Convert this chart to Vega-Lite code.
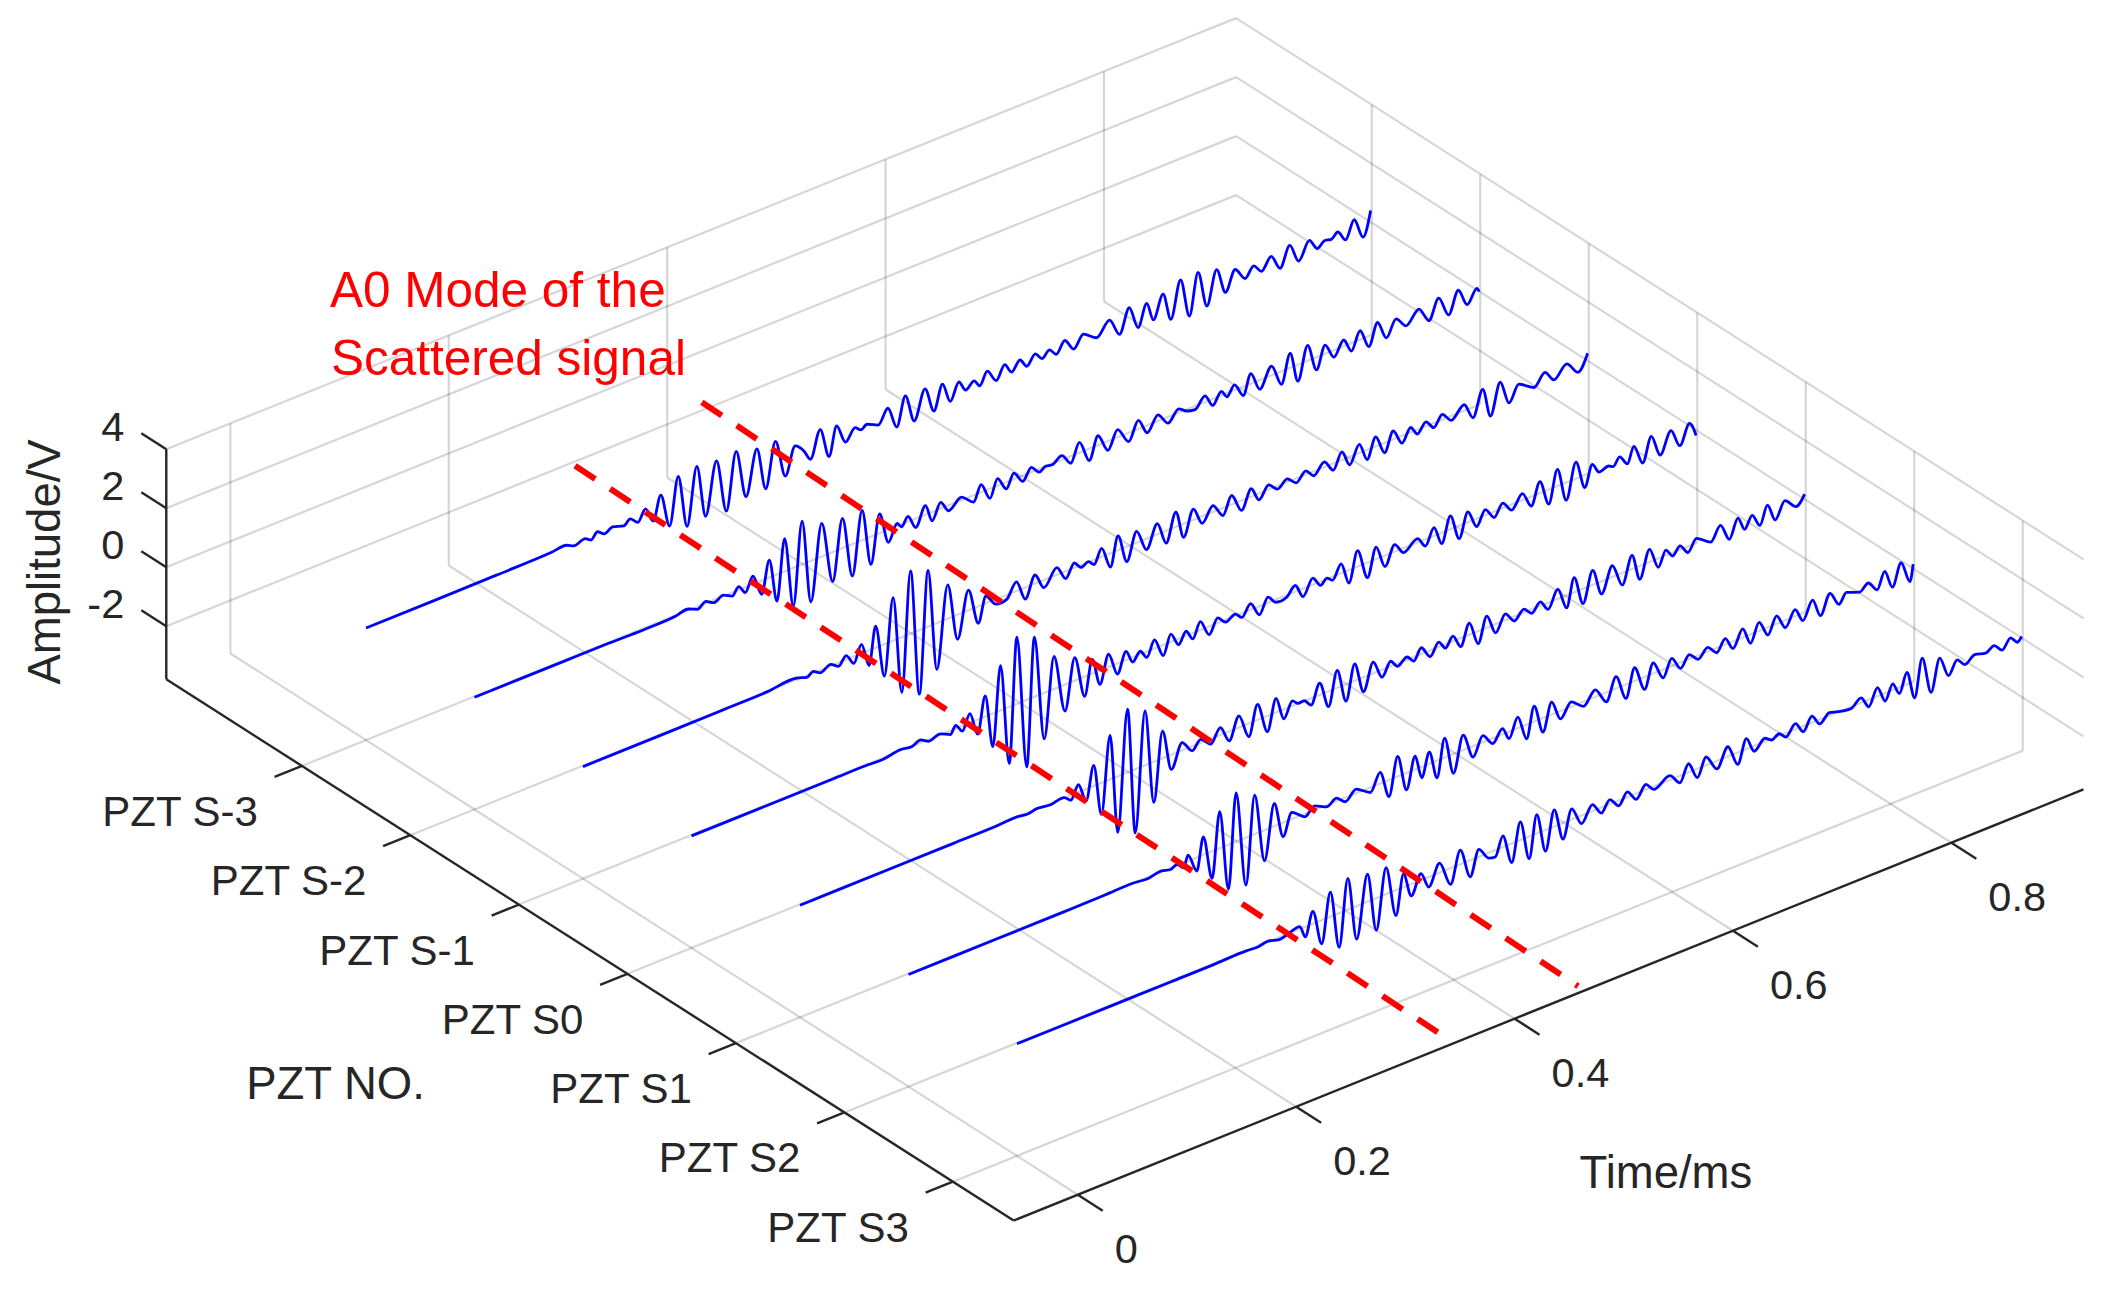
{"$schema":"https://vega.github.io/schema/vega-lite/v6.json","width":2113,"height":1289,"padding":0,"autosize":{"type":"none"},"background":"white","config":{"view":{"stroke":null}},
"datasets":{
"grid":[
{"t1":0,"s1":-4.25,"z1":-3.8,"t2":0,"s2":3.56,"z2":-3.8},{"t1":0.2,"s1":-4.25,"z1":-3.8,"t2":0.2,"s2":3.56,"z2":-3.8},{"t1":0.4,"s1":-4.25,"z1":-3.8,"t2":0.4,"s2":3.56,"z2":-3.8},{"t1":0.6,"s1":-4.25,"z1":-3.8,"t2":0.6,"s2":3.56,"z2":-3.8},{"t1":0.8,"s1":-4.25,"z1":-3.8,"t2":0.8,"s2":3.56,"z2":-3.8},
{"t1":-0.0587,"s1":-3,"z1":-3.8,"t2":0.921,"s2":-3,"z2":-3.8},{"t1":-0.0587,"s1":-2,"z1":-3.8,"t2":0.921,"s2":-2,"z2":-3.8},{"t1":-0.0587,"s1":-1,"z1":-3.8,"t2":0.921,"s2":-1,"z2":-3.8},{"t1":-0.0587,"s1":0,"z1":-3.8,"t2":0.921,"s2":0,"z2":-3.8},{"t1":-0.0587,"s1":1,"z1":-3.8,"t2":0.921,"s2":1,"z2":-3.8},{"t1":-0.0587,"s1":2,"z1":-3.8,"t2":0.921,"s2":2,"z2":-3.8},{"t1":-0.0587,"s1":3,"z1":-3.8,"t2":0.921,"s2":3,"z2":-3.8},
{"t1":0,"s1":-4.25,"z1":-3.8,"t2":0,"s2":-4.25,"z2":4},{"t1":0.2,"s1":-4.25,"z1":-3.8,"t2":0.2,"s2":-4.25,"z2":4},{"t1":0.4,"s1":-4.25,"z1":-3.8,"t2":0.4,"s2":-4.25,"z2":4},{"t1":0.6,"s1":-4.25,"z1":-3.8,"t2":0.6,"s2":-4.25,"z2":4},{"t1":0.8,"s1":-4.25,"z1":-3.8,"t2":0.8,"s2":-4.25,"z2":4},
{"t1":-0.0587,"s1":-4.25,"z1":-2,"t2":0.921,"s2":-4.25,"z2":-2},{"t1":-0.0587,"s1":-4.25,"z1":0,"t2":0.921,"s2":-4.25,"z2":0},{"t1":-0.0587,"s1":-4.25,"z1":2,"t2":0.921,"s2":-4.25,"z2":2},{"t1":-0.0587,"s1":-4.25,"z1":4,"t2":0.921,"s2":-4.25,"z2":4},
{"t1":0.921,"s1":-3,"z1":-3.8,"t2":0.921,"s2":-3,"z2":4},{"t1":0.921,"s1":-2,"z1":-3.8,"t2":0.921,"s2":-2,"z2":4},{"t1":0.921,"s1":-1,"z1":-3.8,"t2":0.921,"s2":-1,"z2":4},{"t1":0.921,"s1":0,"z1":-3.8,"t2":0.921,"s2":0,"z2":4},{"t1":0.921,"s1":1,"z1":-3.8,"t2":0.921,"s2":1,"z2":4},{"t1":0.921,"s1":2,"z1":-3.8,"t2":0.921,"s2":2,"z2":4},{"t1":0.921,"s1":3,"z1":-3.8,"t2":0.921,"s2":3,"z2":4},
{"t1":0.921,"s1":-4.25,"z1":-2,"t2":0.921,"s2":3.56,"z2":-2},{"t1":0.921,"s1":-4.25,"z1":0,"t2":0.921,"s2":3.56,"z2":0},{"t1":0.921,"s1":-4.25,"z1":2,"t2":0.921,"s2":3.56,"z2":2},{"t1":0.921,"s1":-4.25,"z1":4,"t2":0.921,"s2":3.56,"z2":4}
],
"axes":[
{"t1":-0.0587,"s1":-4.25,"z1":-3.8,"t2":-0.0587,"s2":-4.25,"z2":4},{"t1":-0.0587,"s1":-4.25,"z1":-3.8,"t2":-0.0587,"s2":3.56,"z2":-3.8},{"t1":-0.0587,"s1":3.56,"z1":-3.8,"t2":0.921,"s2":3.56,"z2":-3.8},
{"t1":0,"s1":3.56,"z1":-3.8,"t2":0,"s2":3.79,"z2":-3.8},{"t1":0.2,"s1":3.56,"z1":-3.8,"t2":0.2,"s2":3.79,"z2":-3.8},{"t1":0.4,"s1":3.56,"z1":-3.8,"t2":0.4,"s2":3.79,"z2":-3.8},{"t1":0.6,"s1":3.56,"z1":-3.8,"t2":0.6,"s2":3.79,"z2":-3.8},{"t1":0.8,"s1":3.56,"z1":-3.8,"t2":0.8,"s2":3.79,"z2":-3.8},
{"t1":-0.0587,"s1":-3,"z1":-3.8,"t2":-0.0837,"s2":-3,"z2":-3.8},{"t1":-0.0587,"s1":-2,"z1":-3.8,"t2":-0.0837,"s2":-2,"z2":-3.8},{"t1":-0.0587,"s1":-1,"z1":-3.8,"t2":-0.0837,"s2":-1,"z2":-3.8},{"t1":-0.0587,"s1":0,"z1":-3.8,"t2":-0.0837,"s2":0,"z2":-3.8},{"t1":-0.0587,"s1":1,"z1":-3.8,"t2":-0.0837,"s2":1,"z2":-3.8},{"t1":-0.0587,"s1":2,"z1":-3.8,"t2":-0.0837,"s2":2,"z2":-3.8},{"t1":-0.0587,"s1":3,"z1":-3.8,"t2":-0.0837,"s2":3,"z2":-3.8},
{"t1":-0.0587,"s1":-4.25,"z1":-2,"t2":-0.0587,"s2":-4.48,"z2":-2},{"t1":-0.0587,"s1":-4.25,"z1":0,"t2":-0.0587,"s2":-4.48,"z2":0},{"t1":-0.0587,"s1":-4.25,"z1":2,"t2":-0.0587,"s2":-4.48,"z2":2},{"t1":-0.0587,"s1":-4.25,"z1":4,"t2":-0.0587,"s2":-4.48,"z2":4}
],
"signals":[
{"s":-3,"t":0,"v":0},{"s":-3,"t":0.06,"v":0},{"s":-3,"t":0.12,"v":0.01},{"s":-3,"t":0.17,"v":0.03},{"s":-3,"t":0.184,"v":0.06},{"s":-3,"t":0.19,"v":-0.05},{"s":-3,"t":0.201,"v":0.03},{"s":-3,"t":0.206,"v":-0.09},{"s":-3,"t":0.212,"v":0.1},{"s":-3,"t":0.218,"v":-0.06},{"s":-3,"t":0.226,"v":0.06},{"s":-3,"t":0.236,"v":-0.06},{"s":-3,"t":0.242,"v":0.09},{"s":-3,"t":0.249,"v":-0.13},{"s":-3,"t":0.256,"v":0.22},{"s":-3,"t":0.263,"v":-0.3},{"s":-3,"t":0.27,"v":0.48},{"s":-3,"t":0.278,"v":-0.69},{"s":-3,"t":0.286,"v":0.87},{"s":-3,"t":0.294,"v":-0.94},{"s":-3,"t":0.303,"v":0.96},{"s":-3,"t":0.311,"v":-0.85},{"s":-3,"t":0.321,"v":0.88},{"s":-3,"t":0.33,"v":-0.96},{"s":-3,"t":0.339,"v":0.93},{"s":-3,"t":0.348,"v":-0.74},{"s":-3,"t":0.358,"v":0.73},{"s":-3,"t":0.366,"v":-0.74},{"s":-3,"t":0.375,"v":0.73},{"s":-3,"t":0.384,"v":-0.58},{"s":-3,"t":0.393,"v":0.31},{"s":-3,"t":0.401,"v":0.02},{"s":-3,"t":0.407,"v":-0.35},{"s":-3,"t":0.416,"v":0.52},{"s":-3,"t":0.424,"v":-0.51},{"s":-3,"t":0.431,"v":0.42},{"s":-3,"t":0.439,"v":-0.25},{"s":-3,"t":0.448,"v":0.11},{"s":-3,"t":0.453,"v":-0.04},{"s":-3,"t":0.459,"v":0.06},{"s":-3,"t":0.469,"v":-0.12},{"s":-3,"t":0.478,"v":0.32},{"s":-3,"t":0.486,"v":-0.44},{"s":-3,"t":0.494,"v":0.5},{"s":-3,"t":0.502,"v":-0.47},{"s":-3,"t":0.512,"v":0.47},{"s":-3,"t":0.52,"v":-0.4},{"s":-3,"t":0.528,"v":0.39},{"s":-3,"t":0.535,"v":-0.3},{"s":-3,"t":0.543,"v":0.24},{"s":-3,"t":0.549,"v":-0.12},{"s":-3,"t":0.557,"v":0.07},{"s":-3,"t":0.562,"v":-0.17},{"s":-3,"t":0.569,"v":0.22},{"s":-3,"t":0.577,"v":-0.22},{"s":-3,"t":0.585,"v":0.2},{"s":-3,"t":0.591,"v":-0.14},{"s":-3,"t":0.599,"v":0.15},{"s":-3,"t":0.605,"v":-0.15},{"s":-3,"t":0.613,"v":0.15},{"s":-3,"t":0.619,"v":-0.1},{"s":-3,"t":0.626,"v":0.09},{"s":-3,"t":0.632,"v":-0.15},{"s":-3,"t":0.64,"v":0.2},{"s":-3,"t":0.648,"v":-0.21},{"s":-3,"t":0.657,"v":0.16},{"s":-3,"t":0.669,"v":-0.14},{"s":-3,"t":0.681,"v":0.28},{"s":-3,"t":0.69,"v":-0.34},{"s":-3,"t":0.699,"v":0.43},{"s":-3,"t":0.707,"v":-0.36},{"s":-3,"t":0.715,"v":0.34},{"s":-3,"t":0.721,"v":-0.31},{"s":-3,"t":0.73,"v":0.43},{"s":-3,"t":0.737,"v":-0.53},{"s":-3,"t":0.746,"v":0.67},{"s":-3,"t":0.754,"v":-0.67},{"s":-3,"t":0.762,"v":0.69},{"s":-3,"t":0.77,"v":-0.57},{"s":-3,"t":0.779,"v":0.53},{"s":-3,"t":0.787,"v":-0.36},{"s":-3,"t":0.796,"v":0.28},{"s":-3,"t":0.805,"v":-0.16},{"s":-3,"t":0.813,"v":0.15},{"s":-3,"t":0.82,"v":-0.14},{"s":-3,"t":0.829,"v":0.23},{"s":-3,"t":0.837,"v":-0.29},{"s":-3,"t":0.846,"v":0.35},{"s":-3,"t":0.854,"v":-0.3},{"s":-3,"t":0.864,"v":0.25},{"s":-3,"t":0.871,"v":-0.13},{"s":-3,"t":0.878,"v":0.04},{"s":-3,"t":0.884,"v":-0.01},{"s":-3,"t":0.89,"v":0.15},{"s":-3,"t":0.897,"v":-0.22},{"s":-3,"t":0.905,"v":0.34},{"s":-3,"t":0.913,"v":-0.37},{"s":-3,"t":0.92,"v":0.43},
{"s":-2,"t":0,"v":0},{"s":-2,"t":0.08,"v":0},{"s":-2,"t":0.12,"v":0},{"s":-2,"t":0.155,"v":-0.02},{"s":-2,"t":0.184,"v":0},{"s":-2,"t":0.196,"v":0.07},{"s":-2,"t":0.204,"v":-0.06},{"s":-2,"t":0.212,"v":0.09},{"s":-2,"t":0.219,"v":-0.06},{"s":-2,"t":0.228,"v":0.06},{"s":-2,"t":0.236,"v":-0.09},{"s":-2,"t":0.242,"v":0.14},{"s":-2,"t":0.248,"v":-0.15},{"s":-2,"t":0.255,"v":0.3},{"s":-2,"t":0.263,"v":-0.43},{"s":-2,"t":0.27,"v":0.62},{"s":-2,"t":0.277,"v":-0.87},{"s":-2,"t":0.284,"v":1.14},{"s":-2,"t":0.292,"v":-1.26},{"s":-2,"t":0.3,"v":1.5},{"s":-2,"t":0.308,"v":-1.36},{"s":-2,"t":0.318,"v":1.15},{"s":-2,"t":0.328,"v":-0.97},{"s":-2,"t":0.337,"v":1.04},{"s":-2,"t":0.346,"v":-1.05},{"s":-2,"t":0.355,"v":1.04},{"s":-2,"t":0.363,"v":-0.91},{"s":-2,"t":0.371,"v":0.68},{"s":-2,"t":0.379,"v":-0.4},{"s":-2,"t":0.387,"v":0.12},{"s":-2,"t":0.391,"v":-0.05},{"s":-2,"t":0.397,"v":0.21},{"s":-2,"t":0.404,"v":-0.27},{"s":-2,"t":0.413,"v":0.34},{"s":-2,"t":0.419,"v":-0.27},{"s":-2,"t":0.427,"v":0.24},{"s":-2,"t":0.434,"v":-0.15},{"s":-2,"t":0.446,"v":0.13},{"s":-2,"t":0.457,"v":-0.2},{"s":-2,"t":0.464,"v":0.29},{"s":-2,"t":0.472,"v":-0.3},{"s":-2,"t":0.479,"v":0.27},{"s":-2,"t":0.487,"v":-0.2},{"s":-2,"t":0.494,"v":0.23},{"s":-2,"t":0.502,"v":-0.17},{"s":-2,"t":0.51,"v":0.19},{"s":-2,"t":0.517,"v":-0.08},{"s":-2,"t":0.523,"v":0.03},{"s":-2,"t":0.529,"v":-0.01},{"s":-2,"t":0.538,"v":0.17},{"s":-2,"t":0.546,"v":-0.21},{"s":-2,"t":0.554,"v":0.38},{"s":-2,"t":0.563,"v":-0.37},{"s":-2,"t":0.571,"v":0.35},{"s":-2,"t":0.58,"v":-0.28},{"s":-2,"t":0.589,"v":0.29},{"s":-2,"t":0.599,"v":-0.27},{"s":-2,"t":0.608,"v":0.32},{"s":-2,"t":0.616,"v":-0.22},{"s":-2,"t":0.626,"v":0.24},{"s":-2,"t":0.635,"v":-0.18},{"s":-2,"t":0.645,"v":0.16},{"s":-2,"t":0.652,"v":-0.02},{"s":-2,"t":0.66,"v":-0.09},{"s":-2,"t":0.669,"v":0.24},{"s":-2,"t":0.676,"v":-0.19},{"s":-2,"t":0.684,"v":0.17},{"s":-2,"t":0.689,"v":-0.09},{"s":-2,"t":0.696,"v":0.21},{"s":-2,"t":0.704,"v":-0.27},{"s":-2,"t":0.711,"v":0.37},{"s":-2,"t":0.719,"v":-0.28},{"s":-2,"t":0.73,"v":0.34},{"s":-2,"t":0.739,"v":-0.41},{"s":-2,"t":0.747,"v":0.52},{"s":-2,"t":0.754,"v":-0.53},{"s":-2,"t":0.763,"v":0.55},{"s":-2,"t":0.771,"v":-0.4},{"s":-2,"t":0.779,"v":0.32},{"s":-2,"t":0.787,"v":-0.21},{"s":-2,"t":0.796,"v":0.24},{"s":-2,"t":0.803,"v":-0.24},{"s":-2,"t":0.811,"v":0.33},{"s":-2,"t":0.819,"v":-0.33},{"s":-2,"t":0.827,"v":0.37},{"s":-2,"t":0.835,"v":-0.27},{"s":-2,"t":0.844,"v":0.24},{"s":-2,"t":0.853,"v":-0.13},{"s":-2,"t":0.865,"v":0.26},{"s":-2,"t":0.874,"v":-0.27},{"s":-2,"t":0.883,"v":0.36},{"s":-2,"t":0.892,"v":-0.34},{"s":-2,"t":0.901,"v":0.36},{"s":-2,"t":0.909,"v":-0.25},{"s":-2,"t":0.918,"v":0.17},{"s":-2,"t":0.92,"v":0.03},
{"s":-1,"t":0,"v":0},{"s":-1,"t":0.08,"v":0},{"s":-1,"t":0.13,"v":0.01},{"s":-1,"t":0.169,"v":0.02},{"s":-1,"t":0.196,"v":0.08},{"s":-1,"t":0.205,"v":-0.03},{"s":-1,"t":0.211,"v":0.08},{"s":-1,"t":0.217,"v":-0.06},{"s":-1,"t":0.227,"v":0.08},{"s":-1,"t":0.234,"v":-0.09},{"s":-1,"t":0.241,"v":0.17},{"s":-1,"t":0.248,"v":-0.2},{"s":-1,"t":0.255,"v":0.34},{"s":-1,"t":0.262,"v":-0.48},{"s":-1,"t":0.268,"v":0.76},{"s":-1,"t":0.276,"v":-1.05},{"s":-1,"t":0.284,"v":1.49},{"s":-1,"t":0.292,"v":-1.84},{"s":-1,"t":0.3,"v":2.16},{"s":-1,"t":0.308,"v":-2.14},{"s":-1,"t":0.316,"v":1.94},{"s":-1,"t":0.324,"v":-1.54},{"s":-1,"t":0.334,"v":1.18},{"s":-1,"t":0.343,"v":-0.8},{"s":-1,"t":0.353,"v":0.72},{"s":-1,"t":0.362,"v":-0.54},{"s":-1,"t":0.369,"v":0.28},{"s":-1,"t":0.378,"v":-0.13},{"s":-1,"t":0.388,"v":-0.12},{"s":-1,"t":0.397,"v":0.34},{"s":-1,"t":0.405,"v":-0.36},{"s":-1,"t":0.414,"v":0.32},{"s":-1,"t":0.422,"v":-0.23},{"s":-1,"t":0.434,"v":0.27},{"s":-1,"t":0.442,"v":-0.22},{"s":-1,"t":0.45,"v":0.19},{"s":-1,"t":0.456,"v":-0.05},{"s":-1,"t":0.463,"v":0.04},{"s":-1,"t":0.468,"v":-0.13},{"s":-1,"t":0.475,"v":0.31},{"s":-1,"t":0.483,"v":-0.44},{"s":-1,"t":0.49,"v":0.51},{"s":-1,"t":0.498,"v":-0.48},{"s":-1,"t":0.507,"v":0.41},{"s":-1,"t":0.516,"v":-0.34},{"s":-1,"t":0.526,"v":0.39},{"s":-1,"t":0.534,"v":-0.39},{"s":-1,"t":0.543,"v":0.53},{"s":-1,"t":0.55,"v":-0.43},{"s":-1,"t":0.559,"v":0.39},{"s":-1,"t":0.567,"v":-0.21},{"s":-1,"t":0.577,"v":0.24},{"s":-1,"t":0.586,"v":-0.23},{"s":-1,"t":0.594,"v":0.33},{"s":-1,"t":0.603,"v":-0.31},{"s":-1,"t":0.612,"v":0.29},{"s":-1,"t":0.619,"v":-0.19},{"s":-1,"t":0.628,"v":0.18},{"s":-1,"t":0.636,"v":-0.08},{"s":-1,"t":0.645,"v":0.13},{"s":-1,"t":0.653,"v":-0.12},{"s":-1,"t":0.662,"v":0.15},{"s":-1,"t":0.669,"v":-0.12},{"s":-1,"t":0.679,"v":0.2},{"s":-1,"t":0.687,"v":-0.2},{"s":-1,"t":0.695,"v":0.3},{"s":-1,"t":0.702,"v":-0.24},{"s":-1,"t":0.711,"v":0.32},{"s":-1,"t":0.718,"v":-0.3},{"s":-1,"t":0.726,"v":0.35},{"s":-1,"t":0.734,"v":-0.31},{"s":-1,"t":0.742,"v":0.31},{"s":-1,"t":0.75,"v":-0.22},{"s":-1,"t":0.758,"v":0.19},{"s":-1,"t":0.764,"v":-0.12},{"s":-1,"t":0.772,"v":0.17},{"s":-1,"t":0.779,"v":-0.13},{"s":-1,"t":0.787,"v":0.2},{"s":-1,"t":0.795,"v":-0.12},{"s":-1,"t":0.807,"v":0.23},{"s":-1,"t":0.815,"v":-0.33},{"s":-1,"t":0.824,"v":0.5},{"s":-1,"t":0.831,"v":-0.51},{"s":-1,"t":0.84,"v":0.5},{"s":-1,"t":0.848,"v":-0.32},{"s":-1,"t":0.857,"v":0.18},{"s":-1,"t":0.871,"v":-0.14},{"s":-1,"t":0.881,"v":0.22},{"s":-1,"t":0.889,"v":-0.15},{"s":-1,"t":0.901,"v":0.21},{"s":-1,"t":0.911,"v":-0.22},{"s":-1,"t":0.92,"v":0.29},
{"s":0,"t":0,"v":0},{"s":0,"t":0.08,"v":0},{"s":0,"t":0.13,"v":0},{"s":0,"t":0.16,"v":0},{"s":0,"t":0.176,"v":-0.02},{"s":0,"t":0.191,"v":0.07},{"s":0,"t":0.202,"v":0.02},{"s":0,"t":0.21,"v":0.12},{"s":0,"t":0.217,"v":-0.03},{"s":0,"t":0.228,"v":0.06},{"s":0,"t":0.237,"v":-0.1},{"s":0,"t":0.242,"v":0.14},{"s":0,"t":0.248,"v":-0.15},{"s":0,"t":0.255,"v":0.34},{"s":0,"t":0.262,"v":-0.46},{"s":0,"t":0.269,"v":0.73},{"s":0,"t":0.276,"v":-1.09},{"s":0,"t":0.283,"v":1.55},{"s":0,"t":0.291,"v":-1.89},{"s":0,"t":0.298,"v":2.29},{"s":0,"t":0.307,"v":-2.24},{"s":0,"t":0.314,"v":2.05},{"s":0,"t":0.323,"v":-1.53},{"s":0,"t":0.332,"v":1.13},{"s":0,"t":0.342,"v":-0.87},{"s":0,"t":0.351,"v":0.81},{"s":0,"t":0.36,"v":-0.64},{"s":0,"t":0.367,"v":0.51},{"s":0,"t":0.374,"v":-0.44},{"s":0,"t":0.382,"v":0.46},{"s":0,"t":0.39,"v":-0.33},{"s":0,"t":0.398,"v":0.32},{"s":0,"t":0.404,"v":-0.13},{"s":0,"t":0.411,"v":0.13},{"s":0,"t":0.417,"v":-0.17},{"s":0,"t":0.424,"v":0.32},{"s":0,"t":0.432,"v":-0.33},{"s":0,"t":0.439,"v":0.29},{"s":0,"t":0.446,"v":-0.17},{"s":0,"t":0.453,"v":0.18},{"s":0,"t":0.459,"v":-0.17},{"s":0,"t":0.466,"v":0.31},{"s":0,"t":0.474,"v":-0.25},{"s":0,"t":0.482,"v":0.2},{"s":0,"t":0.489,"v":-0.05},{"s":0,"t":0.498,"v":0.09},{"s":0,"t":0.504,"v":-0.11},{"s":0,"t":0.512,"v":0.24},{"s":0,"t":0.52,"v":-0.26},{"s":0,"t":0.528,"v":0.22},{"s":0,"t":0.535,"v":-0.06},{"s":0,"t":0.545,"v":-0.04},{"s":0,"t":0.553,"v":0.24},{"s":0,"t":0.56,"v":-0.24},{"s":0,"t":0.569,"v":0.25},{"s":0,"t":0.576,"v":-0.1},{"s":0,"t":0.582,"v":0.06},{"s":0,"t":0.587,"v":-0.09},{"s":0,"t":0.595,"v":0.35},{"s":0,"t":0.602,"v":-0.41},{"s":0,"t":0.61,"v":0.57},{"s":0,"t":0.619,"v":-0.48},{"s":0,"t":0.627,"v":0.44},{"s":0,"t":0.635,"v":-0.34},{"s":0,"t":0.644,"v":0.27},{"s":0,"t":0.652,"v":-0.12},{"s":0,"t":0.665,"v":0.16},{"s":0,"t":0.672,"v":-0.2},{"s":0,"t":0.68,"v":0.31},{"s":0,"t":0.687,"v":-0.34},{"s":0,"t":0.695,"v":0.48},{"s":0,"t":0.703,"v":-0.41},{"s":0,"t":0.711,"v":0.38},{"s":0,"t":0.719,"v":-0.24},{"s":0,"t":0.727,"v":0.22},{"s":0,"t":0.735,"v":-0.17},{"s":0,"t":0.743,"v":0.2},{"s":0,"t":0.751,"v":-0.16},{"s":0,"t":0.761,"v":0.25},{"s":0,"t":0.769,"v":-0.29},{"s":0,"t":0.777,"v":0.42},{"s":0,"t":0.785,"v":-0.46},{"s":0,"t":0.793,"v":0.6},{"s":0,"t":0.801,"v":-0.57},{"s":0,"t":0.81,"v":0.59},{"s":0,"t":0.818,"v":-0.39},{"s":0,"t":0.825,"v":0.29},{"s":0,"t":0.831,"v":-0.06},{"s":0,"t":0.84,"v":0.01},{"s":0,"t":0.844,"v":-0.07},{"s":0,"t":0.85,"v":0.17},{"s":0,"t":0.857,"v":-0.17},{"s":0,"t":0.863,"v":0.33},{"s":0,"t":0.871,"v":-0.35},{"s":0,"t":0.879,"v":0.43},{"s":0,"t":0.887,"v":-0.32},{"s":0,"t":0.897,"v":0.36},{"s":0,"t":0.905,"v":-0.27},{"s":0,"t":0.914,"v":0.35},{"s":0,"t":0.92,"v":-0.15},
{"s":1,"t":0,"v":0},{"s":1,"t":0.08,"v":0},{"s":1,"t":0.14,"v":0},{"s":1,"t":0.18,"v":0},{"s":1,"t":0.2,"v":0.03},{"s":1,"t":0.208,"v":-0.02},{"s":1,"t":0.217,"v":0.04},{"s":1,"t":0.229,"v":-0.02},{"s":1,"t":0.242,"v":0.04},{"s":1,"t":0.248,"v":-0.14},{"s":1,"t":0.255,"v":0.28},{"s":1,"t":0.262,"v":-0.37},{"s":1,"t":0.269,"v":0.73},{"s":1,"t":0.276,"v":-1.04},{"s":1,"t":0.284,"v":1.52},{"s":1,"t":0.291,"v":-1.87},{"s":1,"t":0.3,"v":2.17},{"s":1,"t":0.307,"v":-2.13},{"s":1,"t":0.316,"v":1.87},{"s":1,"t":0.324,"v":-1.35},{"s":1,"t":0.332,"v":0.95},{"s":1,"t":0.34,"v":-0.47},{"s":1,"t":0.35,"v":0.29},{"s":1,"t":0.359,"v":-0.12},{"s":1,"t":0.367,"v":0.15},{"s":1,"t":0.376,"v":-0.15},{"s":1,"t":0.385,"v":0.28},{"s":1,"t":0.393,"v":-0.29},{"s":1,"t":0.402,"v":0.42},{"s":1,"t":0.411,"v":-0.42},{"s":1,"t":0.419,"v":0.56},{"s":1,"t":0.428,"v":-0.5},{"s":1,"t":0.436,"v":0.51},{"s":1,"t":0.443,"v":-0.29},{"s":1,"t":0.451,"v":0.2},{"s":1,"t":0.456,"v":0.04},{"s":1,"t":0.462,"v":0.04},{"s":1,"t":0.468,"v":-0.2},{"s":1,"t":0.476,"v":0.43},{"s":1,"t":0.484,"v":-0.49},{"s":1,"t":0.492,"v":0.62},{"s":1,"t":0.5,"v":-0.54},{"s":1,"t":0.508,"v":0.6},{"s":1,"t":0.516,"v":-0.46},{"s":1,"t":0.525,"v":0.41},{"s":1,"t":0.533,"v":-0.22},{"s":1,"t":0.541,"v":0.2},{"s":1,"t":0.547,"v":-0.06},{"s":1,"t":0.556,"v":0.12},{"s":1,"t":0.562,"v":-0.11},{"s":1,"t":0.569,"v":0.24},{"s":1,"t":0.577,"v":-0.18},{"s":1,"t":0.585,"v":0.19},{"s":1,"t":0.591,"v":-0.1},{"s":1,"t":0.598,"v":0.2},{"s":1,"t":0.605,"v":-0.26},{"s":1,"t":0.613,"v":0.42},{"s":1,"t":0.621,"v":-0.4},{"s":1,"t":0.629,"v":0.42},{"s":1,"t":0.637,"v":-0.27},{"s":1,"t":0.646,"v":0.24},{"s":1,"t":0.654,"v":-0.12},{"s":1,"t":0.663,"v":0.15},{"s":1,"t":0.67,"v":-0.1},{"s":1,"t":0.678,"v":0.17},{"s":1,"t":0.685,"v":-0.19},{"s":1,"t":0.694,"v":0.36},{"s":1,"t":0.702,"v":-0.39},{"s":1,"t":0.709,"v":0.53},{"s":1,"t":0.717,"v":-0.47},{"s":1,"t":0.726,"v":0.52},{"s":1,"t":0.734,"v":-0.4},{"s":1,"t":0.744,"v":0.41},{"s":1,"t":0.753,"v":-0.38},{"s":1,"t":0.762,"v":0.49},{"s":1,"t":0.769,"v":-0.42},{"s":1,"t":0.778,"v":0.46},{"s":1,"t":0.786,"v":-0.27},{"s":1,"t":0.793,"v":0.21},{"s":1,"t":0.799,"v":-0.08},{"s":1,"t":0.806,"v":0.16},{"s":1,"t":0.813,"v":-0.17},{"s":1,"t":0.821,"v":0.19},{"s":1,"t":0.834,"v":-0.13},{"s":1,"t":0.843,"v":0.3},{"s":1,"t":0.851,"v":-0.29},{"s":1,"t":0.859,"v":0.31},{"s":1,"t":0.865,"v":-0.16},{"s":1,"t":0.872,"v":0.21},{"s":1,"t":0.879,"v":-0.24},{"s":1,"t":0.886,"v":0.35},{"s":1,"t":0.893,"v":-0.26},{"s":1,"t":0.902,"v":0.26},{"s":1,"t":0.912,"v":-0.09},{"s":1,"t":0.92,"v":0.21},
{"s":2,"t":0,"v":0},{"s":2,"t":0.08,"v":0},{"s":2,"t":0.14,"v":0},{"s":2,"t":0.18,"v":0.01},{"s":2,"t":0.206,"v":0.03},{"s":2,"t":0.22,"v":-0.02},{"s":2,"t":0.231,"v":0.06},{"s":2,"t":0.24,"v":-0.02},{"s":2,"t":0.246,"v":0.06},{"s":2,"t":0.252,"v":-0.14},{"s":2,"t":0.256,"v":0.23},{"s":2,"t":0.264,"v":-0.43},{"s":2,"t":0.27,"v":0.64},{"s":2,"t":0.278,"v":-0.89},{"s":2,"t":0.285,"v":1.27},{"s":2,"t":0.293,"v":-1.48},{"s":2,"t":0.3,"v":1.68},{"s":2,"t":0.309,"v":-1.58},{"s":2,"t":0.317,"v":1.35},{"s":2,"t":0.326,"v":-1.01},{"s":2,"t":0.335,"v":0.8},{"s":2,"t":0.343,"v":-0.44},{"s":2,"t":0.351,"v":0.26},{"s":2,"t":0.363,"v":-0.07},{"s":2,"t":0.372,"v":0.17},{"s":2,"t":0.383,"v":-0.03},{"s":2,"t":0.392,"v":0.13},{"s":2,"t":0.4,"v":-0.11},{"s":2,"t":0.41,"v":0.17},{"s":2,"t":0.423,"v":-0.14},{"s":2,"t":0.432,"v":0.41},{"s":2,"t":0.44,"v":-0.53},{"s":2,"t":0.448,"v":0.71},{"s":2,"t":0.456,"v":-0.54},{"s":2,"t":0.464,"v":0.48},{"s":2,"t":0.47,"v":-0.34},{"s":2,"t":0.477,"v":0.42},{"s":2,"t":0.484,"v":-0.55},{"s":2,"t":0.491,"v":0.69},{"s":2,"t":0.499,"v":-0.62},{"s":2,"t":0.508,"v":0.54},{"s":2,"t":0.517,"v":-0.34},{"s":2,"t":0.526,"v":0.25},{"s":2,"t":0.535,"v":-0.15},{"s":2,"t":0.544,"v":0.22},{"s":2,"t":0.55,"v":-0.21},{"s":2,"t":0.558,"v":0.4},{"s":2,"t":0.566,"v":-0.45},{"s":2,"t":0.573,"v":0.55},{"s":2,"t":0.581,"v":-0.45},{"s":2,"t":0.589,"v":0.45},{"s":2,"t":0.597,"v":-0.24},{"s":2,"t":0.607,"v":0.19},{"s":2,"t":0.618,"v":-0.13},{"s":2,"t":0.629,"v":0.27},{"s":2,"t":0.639,"v":-0.29},{"s":2,"t":0.648,"v":0.43},{"s":2,"t":0.657,"v":-0.44},{"s":2,"t":0.665,"v":0.48},{"s":2,"t":0.674,"v":-0.39},{"s":2,"t":0.682,"v":0.39},{"s":2,"t":0.691,"v":-0.25},{"s":2,"t":0.699,"v":0.29},{"s":2,"t":0.707,"v":-0.17},{"s":2,"t":0.715,"v":0.18},{"s":2,"t":0.723,"v":-0.1},{"s":2,"t":0.732,"v":0.17},{"s":2,"t":0.74,"v":-0.13},{"s":2,"t":0.748,"v":0.23},{"s":2,"t":0.755,"v":-0.21},{"s":2,"t":0.764,"v":0.32},{"s":2,"t":0.771,"v":-0.27},{"s":2,"t":0.779,"v":0.32},{"s":2,"t":0.787,"v":-0.23},{"s":2,"t":0.795,"v":0.3},{"s":2,"t":0.803,"v":-0.22},{"s":2,"t":0.812,"v":0.26},{"s":2,"t":0.819,"v":-0.22},{"s":2,"t":0.828,"v":0.34},{"s":2,"t":0.835,"v":-0.29},{"s":2,"t":0.844,"v":0.33},{"s":2,"t":0.852,"v":-0.16},{"s":2,"t":0.859,"v":0.14},{"s":2,"t":0.871,"v":-0.03},{"s":2,"t":0.879,"v":0.16},{"s":2,"t":0.887,"v":-0.19},{"s":2,"t":0.894,"v":0.33},{"s":2,"t":0.901,"v":-0.31},{"s":2,"t":0.909,"v":0.4},{"s":2,"t":0.917,"v":-0.36},{"s":2,"t":0.92,"v":0.19},
{"s":3,"t":0,"v":0},{"s":3,"t":0.08,"v":0},{"s":3,"t":0.14,"v":0},{"s":3,"t":0.18,"v":0},{"s":3,"t":0.21,"v":0.02},{"s":3,"t":0.22,"v":-0.01},{"s":3,"t":0.23,"v":0.05},{"s":3,"t":0.24,"v":-0.05},{"s":3,"t":0.25,"v":0.05},{"s":3,"t":0.259,"v":0.11},{"s":3,"t":0.264,"v":-0.31},{"s":3,"t":0.271,"v":0.45},{"s":3,"t":0.279,"v":-0.77},{"s":3,"t":0.287,"v":0.86},{"s":3,"t":0.295,"v":-1.13},{"s":3,"t":0.303,"v":1.09},{"s":3,"t":0.311,"v":-1.09},{"s":3,"t":0.321,"v":0.96},{"s":3,"t":0.329,"v":-1.06},{"s":3,"t":0.338,"v":0.93},{"s":3,"t":0.347,"v":-0.83},{"s":3,"t":0.354,"v":0.48},{"s":3,"t":0.361,"v":-0.37},{"s":3,"t":0.37,"v":0.25},{"s":3,"t":0.377,"v":-0.31},{"s":3,"t":0.387,"v":0.35},{"s":3,"t":0.397,"v":-0.52},{"s":3,"t":0.406,"v":0.51},{"s":3,"t":0.415,"v":-0.53},{"s":3,"t":0.423,"v":0.28},{"s":3,"t":0.432,"v":-0.15},{"s":3,"t":0.438,"v":-0.2},{"s":3,"t":0.445,"v":0.41},{"s":3,"t":0.453,"v":-0.61},{"s":3,"t":0.461,"v":0.65},{"s":3,"t":0.469,"v":-0.72},{"s":3,"t":0.476,"v":0.67},{"s":3,"t":0.484,"v":-0.69},{"s":3,"t":0.492,"v":0.59},{"s":3,"t":0.5,"v":-0.52},{"s":3,"t":0.508,"v":0.39},{"s":3,"t":0.517,"v":-0.25},{"s":3,"t":0.527,"v":0.25},{"s":3,"t":0.535,"v":-0.16},{"s":3,"t":0.543,"v":0.18},{"s":3,"t":0.551,"v":-0.15},{"s":3,"t":0.559,"v":0.2},{"s":3,"t":0.567,"v":-0.17},{"s":3,"t":0.576,"v":0.2},{"s":3,"t":0.583,"v":-0.07},{"s":3,"t":0.598,"v":0.17},{"s":3,"t":0.607,"v":-0.21},{"s":3,"t":0.615,"v":0.32},{"s":3,"t":0.623,"v":-0.27},{"s":3,"t":0.631,"v":0.31},{"s":3,"t":0.641,"v":-0.24},{"s":3,"t":0.651,"v":0.36},{"s":3,"t":0.66,"v":-0.37},{"s":3,"t":0.668,"v":0.38},{"s":3,"t":0.675,"v":-0.15},{"s":3,"t":0.685,"v":0.14},{"s":3,"t":0.691,"v":-0.01},{"s":3,"t":0.698,"v":0.1},{"s":3,"t":0.704,"v":-0.1},{"s":3,"t":0.713,"v":0.22},{"s":3,"t":0.72,"v":-0.16},{"s":3,"t":0.728,"v":0.25},{"s":3,"t":0.735,"v":-0.12},{"s":3,"t":0.744,"v":0.13},{"s":3,"t":0.752,"v":0.04},{"s":3,"t":0.764,"v":-0.03},{"s":3,"t":0.773,"v":0.2},{"s":3,"t":0.78,"v":-0.21},{"s":3,"t":0.788,"v":0.32},{"s":3,"t":0.795,"v":-0.24},{"s":3,"t":0.802,"v":0.24},{"s":3,"t":0.808,"v":-0.18},{"s":3,"t":0.815,"v":0.43},{"s":3,"t":0.822,"v":-0.53},{"s":3,"t":0.829,"v":0.71},{"s":3,"t":0.837,"v":-0.57},{"s":3,"t":0.845,"v":0.47},{"s":3,"t":0.853,"v":-0.24},{"s":3,"t":0.861,"v":0.17},{"s":3,"t":0.868,"v":-0.09},{"s":3,"t":0.877,"v":0.11},{"s":3,"t":0.887,"v":0.01},{"s":3,"t":0.895,"v":0.15},{"s":3,"t":0.902,"v":-0.11},{"s":3,"t":0.91,"v":0.19},{"s":3,"t":0.916,"v":-0.05},{"s":3,"t":0.92,"v":0.09}
]},
"layer":[
{"data":{"name":"grid"},"transform":[{"calculate":"366+1092*datum.t1+108.5*(datum.s1+3)","as":"x1"},{"calculate":"628-440*datum.t1+69.3*(datum.s1+3)-29.5*datum.z1","as":"y1"},{"calculate":"366+1092*datum.t2+108.5*(datum.s2+3)","as":"x2"},{"calculate":"628-440*datum.t2+69.3*(datum.s2+3)-29.5*datum.z2","as":"y2"}],
"mark":{"type":"rule","stroke":"#000000","strokeOpacity":0.16,"strokeWidth":2.2},
"encoding":{"x":{"field":"x1","type":"quantitative","scale":{"domain":[0,2113],"nice":false,"zero":false},"axis":null},"y":{"field":"y1","type":"quantitative","scale":{"domain":[1289,0],"nice":false,"zero":false},"axis":null},"x2":{"field":"x2"},"y2":{"field":"y2"}}},
{"data":{"name":"axes"},"transform":[{"calculate":"366+1092*datum.t1+108.5*(datum.s1+3)","as":"x1"},{"calculate":"628-440*datum.t1+69.3*(datum.s1+3)-29.5*datum.z1","as":"y1"},{"calculate":"366+1092*datum.t2+108.5*(datum.s2+3)","as":"x2"},{"calculate":"628-440*datum.t2+69.3*(datum.s2+3)-29.5*datum.z2","as":"y2"}],
"mark":{"type":"rule","stroke":"#262626","strokeWidth":2.4},
"encoding":{"x":{"field":"x1","type":"quantitative","scale":{"domain":[0,2113],"nice":false,"zero":false},"axis":null},"y":{"field":"y1","type":"quantitative","scale":{"domain":[1289,0],"nice":false,"zero":false},"axis":null},"x2":{"field":"x2"},"y2":{"field":"y2"}}},
{"data":{"name":"signals"},"transform":[{"calculate":"366+1092*datum.t+108.5*(datum.s+3)","as":"px"},{"calculate":"628-440*datum.t+69.3*(datum.s+3)-29.5*datum.v","as":"py"}],
"mark":{"type":"line","stroke":"#0000ff","strokeWidth":2.8,"interpolate":"monotone"},
"encoding":{"x":{"field":"px","type":"quantitative","scale":{"domain":[0,2113],"nice":false,"zero":false},"axis":null},"y":{"field":"py","type":"quantitative","scale":{"domain":[1289,0],"nice":false,"zero":false},"axis":null},"detail":{"field":"s"}}},
{"data":{"values":[{"g":"a","t":0.26,"s":-3.69},{"g":"a","t":0.2462,"s":4.5},{"g":"b","t":0.387,"s":-3.8},{"g":"b","t":0.3657,"s":4.49}]},"transform":[{"calculate":"366+1092*datum.t+108.5*(datum.s+3)","as":"px"},{"calculate":"628-440*datum.t+69.3*(datum.s+3)","as":"py"}],
"mark":{"type":"line","stroke":"#ff0000","strokeWidth":6,"strokeDash":[24,18]},
"encoding":{"x":{"field":"px","type":"quantitative","scale":{"domain":[0,2113],"nice":false,"zero":false},"axis":null},"y":{"field":"py","type":"quantitative","scale":{"domain":[1289,0],"nice":false,"zero":false},"axis":null},"detail":{"field":"g"}}},
{"data":{"values":[{"label":"0","t":0},{"label":"0.2","t":0.2},{"label":"0.4","t":0.4},{"label":"0.6","t":0.6},{"label":"0.8","t":0.8}]},"transform":[{"calculate":"366+1092*datum.t+108.5*6.56","as":"px"},{"calculate":"628-440*datum.t+69.3*6.56+29.5*3.8","as":"py"}],
"mark":{"type":"text","font":"Liberation Sans","fontSize":41.5,"fill":"#262626","align":"left","baseline":"middle","dx":37,"dy":56},
"encoding":{"x":{"field":"px","type":"quantitative","scale":{"domain":[0,2113],"nice":false,"zero":false},"axis":null},"y":{"field":"py","type":"quantitative","scale":{"domain":[1289,0],"nice":false,"zero":false},"axis":null},"text":{"field":"label"}}},
{"data":{"values":[{"label":"PZT S-3","s":-3},{"label":"PZT S-2","s":-2},{"label":"PZT S-1","s":-1},{"label":"PZT S0","s":0},{"label":"PZT S1","s":1},{"label":"PZT S2","s":2},{"label":"PZT S3","s":3}]},"transform":[{"calculate":"366+1092*(-0.0587)+108.5*(datum.s+3)","as":"px"},{"calculate":"628+440*0.0587+69.3*(datum.s+3)+29.5*3.8","as":"py"}],
"mark":{"type":"text","font":"Liberation Sans","fontSize":42,"fill":"#262626","align":"right","baseline":"middle","dx":-44,"dy":47},
"encoding":{"x":{"field":"px","type":"quantitative","scale":{"domain":[0,2113],"nice":false,"zero":false},"axis":null},"y":{"field":"py","type":"quantitative","scale":{"domain":[1289,0],"nice":false,"zero":false},"axis":null},"text":{"field":"label"}}},
{"data":{"values":[{"label":"-2","z":-2},{"label":"0","z":0},{"label":"2","z":2},{"label":"4","z":4}]},"transform":[{"calculate":"366+1092*(-0.0587)+108.5*(-1.25)","as":"px"},{"calculate":"628+440*0.0587+69.3*(-1.25)-29.5*datum.z","as":"py"}],
"mark":{"type":"text","font":"Liberation Sans","fontSize":41.5,"fill":"#262626","align":"right","baseline":"middle","dx":-42,"dy":-20},
"encoding":{"x":{"field":"px","type":"quantitative","scale":{"domain":[0,2113],"nice":false,"zero":false},"axis":null},"y":{"field":"py","type":"quantitative","scale":{"domain":[1289,0],"nice":false,"zero":false},"axis":null},"text":{"field":"label"}}},
{"data":{"values":[{"label":"Time/ms","t":0.2524,"s":6.445},{"label":"PZT NO.","t":-0.4184,"s":0.922}]},"transform":[{"calculate":"366+1090*datum.t+108.5*(datum.s+3)","as":"px"},{"calculate":"628-438*datum.t+69.3*(datum.s+3)","as":"py"}],
"mark":{"type":"text","font":"Liberation Sans","fontSize":45.5,"fill":"#262626","align":"center","baseline":"middle","dy":2},
"encoding":{"x":{"field":"px","type":"quantitative","scale":{"domain":[0,2113],"nice":false,"zero":false},"axis":null},"y":{"field":"py","type":"quantitative","scale":{"domain":[1289,0],"nice":false,"zero":false},"axis":null},"text":{"field":"label"}}},
{"data":{"values":[{"label":"Amplitude/V","t":-0.1231,"s":-4.731}]},"transform":[{"calculate":"366+1090*datum.t+108.5*(datum.s+3)","as":"px"},{"calculate":"628-438*datum.t+69.3*(datum.s+3)","as":"py"}],
"mark":{"type":"text","font":"Liberation Sans","fontSize":45.5,"fill":"#262626","align":"center","baseline":"middle","angle":270,"dy":2},
"encoding":{"x":{"field":"px","type":"quantitative","scale":{"domain":[0,2113],"nice":false,"zero":false},"axis":null},"y":{"field":"py","type":"quantitative","scale":{"domain":[1289,0],"nice":false,"zero":false},"axis":null},"text":{"field":"label"}}},
{"data":{"values":[{"label":"A0 Mode of the","t":0.2777,"s":-6.122},{"label":"Scattered signal","t":0.2183,"s":-5.516}]},"transform":[{"calculate":"366+1090*datum.t+108.5*(datum.s+3)","as":"px"},{"calculate":"628-438*datum.t+69.3*(datum.s+3)","as":"py"}],
"mark":{"type":"text","font":"Liberation Sans","fontSize":49.5,"fill":"#ff0000","align":"left","baseline":"middle","dy":2},
"encoding":{"x":{"field":"px","type":"quantitative","scale":{"domain":[0,2113],"nice":false,"zero":false},"axis":null},"y":{"field":"py","type":"quantitative","scale":{"domain":[1289,0],"nice":false,"zero":false},"axis":null},"text":{"field":"label"}}}
]}
